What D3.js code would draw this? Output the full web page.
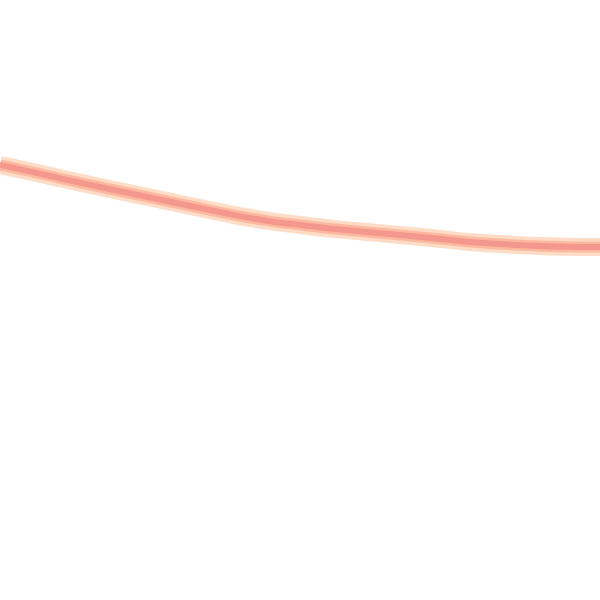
<!DOCTYPE html>
<html>
<head>
<meta charset="utf-8">
<script src="https://cdn.jsdelivr.net/npm/d3@7"></script>
<style>
  html, body { margin: 0; padding: 0; background: #fff; }
  svg { display: block; }
</style>
</head>
<body>
<script>
// positions along the line and its level (higher = further up)
const steps = [0, 33, 67, 100, 133, 167, 200, 233, 267, 300, 333, 367, 400, 433, 467, 500, 533, 567, 600];
const levels = [435, 428, 420, 413, 406, 399, 392, 385, 379, 375, 371, 368, 365, 362, 358, 356, 354, 353, 353];

const w = 600;
const h = 600;

const xScale = d3.scaleLinear().domain([0, 600]).range([0, w]);
const yScale = d3.scaleLinear().domain([0, 600]).range([h, 0]);

const data = steps.map((s, i) => [s, levels[i]]);

const line = d3.line()
  .x(d => xScale(d[0]))
  .y(d => yScale(d[1]))
  .curve(d3.curveBasis);

const svg = d3.select("body")
  .append("svg")
  .attr("width", w)
  .attr("height", h);

// soft outer glow
svg.append("path")
  .datum(data)
  .attr("d", line)
  .attr("fill", "none")
  .attr("stroke", "#ffdcc6")
  .attr("stroke-width", 18);

svg.append("path")
  .datum(data)
  .attr("d", line)
  .attr("fill", "none")
  .attr("stroke", "#fdb9a0")
  .attr("stroke-width", 11);

// core
svg.append("path")
  .datum(data)
  .attr("d", line)
  .attr("fill", "none")
  .attr("stroke", "#f4978c")
  .attr("stroke-width", 6);
</script>
</body>
</html>
